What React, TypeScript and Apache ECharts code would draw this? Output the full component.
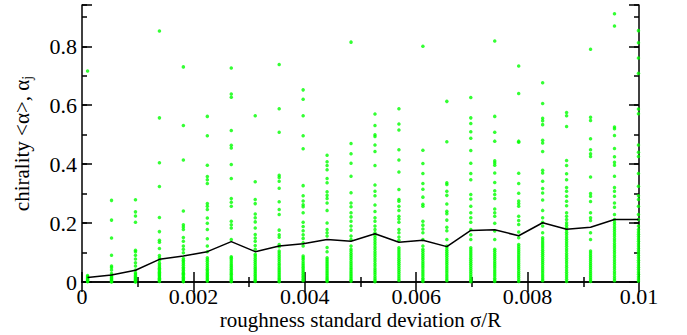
import React, { useEffect, useRef } from "react";
import * as echarts from "echarts";

// x position (sigma/R) of each column of points
const xValues = [
  0.0001, 0.00053, 0.00096, 0.00139, 0.00182, 0.00225, 0.00268, 0.00311,
  0.00354, 0.00397, 0.0044, 0.00483, 0.00526, 0.00569, 0.00612, 0.00655,
  0.00698, 0.00741, 0.00784, 0.00827, 0.0087, 0.00913, 0.00956, 0.00999,
];

// mean chirality <alpha> (black line)
const meanValues = [
  0.015, 0.024, 0.04, 0.077, 0.088, 0.103, 0.137, 0.103, 0.122, 0.13, 0.144,
  0.138, 0.164, 0.135, 0.142, 0.12, 0.175, 0.177, 0.157, 0.201, 0.179, 0.186,
  0.212, 0.212,
];

// tick labels
const xTickValues = [0, 0.002, 0.004, 0.006, 0.008, 0.01];
const xTickLabels = ["0", "0.002", "0.004", "0.006", "0.008", "0.01"];
const yTickValues = [0, 0.2, 0.4, 0.6, 0.8];
const yTickLabels = ["0", "0.2", "0.4", "0.6", "0.8"];

// individual chirality values alpha_j (green points), one list per column
const col0 = [0.716, 0.022, 0.019, 0.016, 0.013, 0.01, 0.008, 0.005, 0.003, 0.001];
const col1 = [0.277, 0.21, 0.149, 0.091, 0.054, 0.049, 0.041, 0.029, 0.023, 0.019, 0.016, 0.013, 0.01, 0.007, 0.004, 0.002, 0.0];
const col2 = [0.279, 0.238, 0.224, 0.203, 0.108, 0.103, 0.091, 0.078, 0.065, 0.054, 0.041, 0.031, 0.027, 0.022, 0.018, 0.014, 0.011, 0.008, 0.005, 0.002, 0.0];
const col3 = [0.852, 0.557, 0.405, 0.324, 0.219, 0.171, 0.142, 0.135, 0.114, 0.09, 0.082, 0.074, 0.064, 0.058, 0.052, 0.047, 0.042, 0.037, 0.033, 0.029, 0.025, 0.021, 0.017, 0.013, 0.009, 0.005, 0.002];
const col4 = [0.73, 0.531, 0.414, 0.241, 0.194, 0.187, 0.178, 0.151, 0.138, 0.122, 0.111, 0.099, 0.08, 0.074, 0.069, 0.063, 0.057, 0.05, 0.045, 0.04, 0.034, 0.03, 0.026, 0.021, 0.016, 0.012, 0.008, 0.004, 0.001];
const col5 = [0.562, 0.496, 0.396, 0.358, 0.347, 0.334, 0.266, 0.257, 0.246, 0.217, 0.199, 0.178, 0.147, 0.122, 0.103, 0.082, 0.076, 0.07, 0.063, 0.056, 0.049, 0.043, 0.038, 0.032, 0.027, 0.022, 0.017, 0.012, 0.007, 0.003];
const col6 = [0.726, 0.638, 0.627, 0.514, 0.464, 0.455, 0.399, 0.351, 0.283, 0.271, 0.257, 0.206, 0.194, 0.183, 0.144, 0.086, 0.081, 0.075, 0.068, 0.061, 0.055, 0.049, 0.043, 0.037, 0.031, 0.026, 0.02, 0.014, 0.009, 0.004, 0.001];
const col7 = [0.564, 0.34, 0.28, 0.266, 0.231, 0.218, 0.204, 0.183, 0.161, 0.149, 0.138, 0.124, 0.111, 0.094, 0.088, 0.081, 0.074, 0.067, 0.06, 0.053, 0.047, 0.041, 0.035, 0.029, 0.023, 0.017, 0.011, 0.006, 0.002];
const col8 = [0.738, 0.588, 0.508, 0.362, 0.355, 0.342, 0.318, 0.272, 0.246, 0.229, 0.176, 0.16, 0.152, 0.127, 0.12, 0.105, 0.098, 0.091, 0.084, 0.077, 0.07, 0.063, 0.057, 0.05, 0.044, 0.038, 0.032, 0.026, 0.02, 0.014, 0.009, 0.004, 0.001];
const col9 = [0.652, 0.62, 0.564, 0.496, 0.452, 0.327, 0.293, 0.275, 0.262, 0.255, 0.235, 0.203, 0.188, 0.174, 0.16, 0.148, 0.133, 0.122, 0.088, 0.082, 0.076, 0.069, 0.062, 0.056, 0.05, 0.044, 0.038, 0.032, 0.026, 0.02, 0.015, 0.009, 0.004];
const col10 = [0.43, 0.408, 0.395, 0.381, 0.351, 0.337, 0.306, 0.294, 0.283, 0.268, 0.243, 0.2, 0.178, 0.167, 0.156, 0.117, 0.103, 0.082, 0.076, 0.07, 0.064, 0.058, 0.052, 0.046, 0.04, 0.034, 0.028, 0.022, 0.016, 0.011, 0.006, 0.002];
const col11 = [0.814, 0.47, 0.435, 0.403, 0.359, 0.303, 0.268, 0.255, 0.235, 0.221, 0.206, 0.19, 0.176, 0.156, 0.144, 0.122, 0.111, 0.104, 0.097, 0.09, 0.083, 0.076, 0.069, 0.062, 0.055, 0.048, 0.042, 0.036, 0.03, 0.024, 0.018, 0.012, 0.007, 0.003];
const col12 = [0.57, 0.531, 0.5, 0.494, 0.465, 0.443, 0.395, 0.329, 0.308, 0.293, 0.261, 0.239, 0.218, 0.206, 0.19, 0.178, 0.167, 0.159, 0.151, 0.143, 0.135, 0.127, 0.119, 0.111, 0.103, 0.095, 0.087, 0.079, 0.071, 0.063, 0.055, 0.047, 0.04, 0.033, 0.026, 0.019, 0.012, 0.006, 0.001];
const col13 = [0.588, 0.536, 0.516, 0.449, 0.414, 0.373, 0.314, 0.28, 0.274, 0.257, 0.243, 0.223, 0.214, 0.203, 0.178, 0.167, 0.153, 0.142, 0.116, 0.109, 0.102, 0.095, 0.088, 0.081, 0.074, 0.067, 0.06, 0.053, 0.046, 0.039, 0.032, 0.025, 0.018, 0.011, 0.005];
const col14 = [0.8, 0.447, 0.402, 0.368, 0.334, 0.315, 0.288, 0.264, 0.257, 0.206, 0.193, 0.18, 0.167, 0.144, 0.122, 0.111, 0.104, 0.097, 0.09, 0.083, 0.076, 0.069, 0.062, 0.055, 0.048, 0.041, 0.034, 0.027, 0.02, 0.013, 0.007, 0.002];
const col15 = [0.613, 0.476, 0.337, 0.331, 0.308, 0.294, 0.265, 0.24, 0.232, 0.21, 0.186, 0.174, 0.144, 0.122, 0.115, 0.108, 0.101, 0.094, 0.087, 0.08, 0.073, 0.066, 0.059, 0.052, 0.045, 0.038, 0.031, 0.024, 0.017, 0.01, 0.004];
const col16 = [0.626, 0.557, 0.538, 0.51, 0.488, 0.446, 0.403, 0.368, 0.347, 0.297, 0.282, 0.257, 0.235, 0.218, 0.203, 0.178, 0.16, 0.144, 0.116, 0.109, 0.102, 0.095, 0.088, 0.081, 0.074, 0.067, 0.06, 0.053, 0.046, 0.039, 0.032, 0.025, 0.018, 0.011, 0.005, 0.001];
const col17 = [0.818, 0.562, 0.508, 0.478, 0.411, 0.404, 0.396, 0.37, 0.338, 0.31, 0.297, 0.283, 0.248, 0.235, 0.223, 0.199, 0.173, 0.144, 0.111, 0.104, 0.097, 0.09, 0.083, 0.076, 0.069, 0.062, 0.055, 0.048, 0.041, 0.034, 0.027, 0.02, 0.013, 0.007, 0.002];
const col18 = [0.733, 0.64, 0.478, 0.474, 0.369, 0.334, 0.301, 0.275, 0.266, 0.257, 0.223, 0.209, 0.195, 0.17, 0.15, 0.127, 0.12, 0.113, 0.106, 0.099, 0.092, 0.085, 0.078, 0.071, 0.064, 0.057, 0.05, 0.043, 0.036, 0.029, 0.022, 0.015, 0.008, 0.002];
const col19 = [0.676, 0.606, 0.556, 0.547, 0.534, 0.481, 0.472, 0.443, 0.379, 0.37, 0.342, 0.317, 0.302, 0.278, 0.243, 0.218, 0.203, 0.19, 0.167, 0.15, 0.143, 0.136, 0.129, 0.122, 0.115, 0.108, 0.101, 0.094, 0.087, 0.08, 0.073, 0.066, 0.059, 0.052, 0.045, 0.038, 0.031, 0.024, 0.017, 0.01, 0.004];
const col20 = [0.575, 0.564, 0.528, 0.412, 0.395, 0.367, 0.347, 0.321, 0.308, 0.291, 0.274, 0.259, 0.235, 0.223, 0.212, 0.201, 0.193, 0.185, 0.177, 0.169, 0.161, 0.153, 0.145, 0.137, 0.129, 0.121, 0.113, 0.105, 0.097, 0.089, 0.081, 0.073, 0.065, 0.057, 0.049, 0.041, 0.033, 0.025, 0.017, 0.009, 0.002];
const col21 = [0.79, 0.559, 0.548, 0.486, 0.449, 0.435, 0.426, 0.356, 0.3, 0.291, 0.273, 0.235, 0.218, 0.209, 0.167, 0.144, 0.105, 0.098, 0.091, 0.084, 0.077, 0.07, 0.063, 0.056, 0.049, 0.042, 0.035, 0.028, 0.021, 0.014, 0.008, 0.002];
const col22 = [0.91, 0.869, 0.526, 0.52, 0.497, 0.453, 0.425, 0.406, 0.396, 0.359, 0.321, 0.308, 0.291, 0.268, 0.254, 0.229, 0.212, 0.203, 0.195, 0.187, 0.179, 0.171, 0.163, 0.155, 0.147, 0.139, 0.131, 0.123, 0.115, 0.107, 0.099, 0.091, 0.083, 0.075, 0.067, 0.059, 0.051, 0.043, 0.035, 0.027, 0.019, 0.011, 0.004];
const col23 = [0.853, 0.812, 0.76, 0.708, 0.587, 0.571, 0.465, 0.44, 0.426, 0.368, 0.325, 0.293, 0.28, 0.257, 0.229, 0.212, 0.19, 0.178, 0.17, 0.162, 0.154, 0.146, 0.138, 0.13, 0.122, 0.114, 0.106, 0.098, 0.09, 0.082, 0.074, 0.066, 0.058, 0.05, 0.042, 0.034, 0.026, 0.018, 0.01, 0.003];

const columns = [
  col0, col1, col2, col3, col4, col5, col6, col7, col8, col9, col10, col11,
  col12, col13, col14, col15, col16, col17, col18, col19, col20, col21, col22, col23,
];

const X_TITLE = "roughness standard deviation σ/R";

const FONT = "Liberation Serif";

export default function App() {
  const ref = useRef<HTMLDivElement>(null);

  useEffect(() => {
    if (!ref.current) return;
    const chart = echarts.init(ref.current, undefined, { renderer: "svg" });

    const scatterData: number[][] = [];
    columns.forEach((col, i) => {
      col.forEach((v) => scatterData.push([xValues[i], v]));
    });
    const lineData = xValues.map((x, i) => [x, meanValues[i]]);

    const axisLineStyle = () => ({ color: "#000", width: 1.5 });
    const tickStyle = () => ({ color: "#000", width: 1.5 });

    const option: any = {
      animation: false,
      backgroundColor: "#fff",
      grid: { left: 82, right: 48, top: 5, bottom: 52 },
      xAxis: [
        {
          type: "value",
          position: "bottom",
          min: 0,
          max: 0.01,
          interval: 0.002,
          axisLine: { show: true, lineStyle: axisLineStyle() },
          axisTick: { show: true, inside: true, length: 10, lineStyle: tickStyle() },
          minorTick: { show: true, splitNumber: 2, length: 5, lineStyle: tickStyle() },
          splitLine: { show: false },
          axisLabel: { show: false },
          name: X_TITLE,
          nameLocation: "middle",
          nameGap: 27,
          nameTextStyle: { fontFamily: FONT, fontSize: 21, color: "#000" },
        },
        {
          type: "value",
          position: "top",
          min: 0,
          max: 0.01,
          interval: 0.002,
          axisLine: { show: true, lineStyle: axisLineStyle() },
          axisTick: { show: true, inside: true, length: 10, lineStyle: tickStyle() },
          minorTick: { show: true, splitNumber: 2, length: 5, lineStyle: tickStyle() },
          splitLine: { show: false },
          axisLabel: { show: false },
        },
      ],
      yAxis: [
        {
          type: "value",
          position: "left",
          min: 0,
          max: 0.94,
          interval: 0.1,
          splitLine: { show: false },
          axisLine: { show: true, lineStyle: axisLineStyle() },
          axisTick: { show: true, inside: true, length: 5, lineStyle: tickStyle() },
          axisLabel: { show: false },
          name: "{a|chirality <α>, α}{s|j}",
          nameLocation: "middle",
          nameGap: 48,
          nameTextStyle: {
            fontFamily: FONT,
            fontSize: 21,
            color: "#000",
            rich: {
              a: { fontFamily: FONT, fontSize: 21, color: "#000", lineHeight: 24 },
              s: {
                fontFamily: FONT,
                fontSize: 14,
                color: "#000",
                verticalAlign: "bottom",
                lineHeight: 14,
                padding: [10, 0, 0, 0],
              },
            },
          },
        },
        {
          type: "value",
          position: "left",
          min: 0,
          max: 0.94,
          interval: 0.2,
          splitLine: { show: false },
          axisLine: { show: false },
          axisTick: { show: true, inside: true, length: 10, lineStyle: tickStyle() },
          axisLabel: { show: false },
        },
        {
          type: "value",
          position: "right",
          min: 0,
          max: 0.94,
          interval: 0.1,
          splitLine: { show: false },
          axisLine: { show: true, lineStyle: axisLineStyle() },
          axisTick: { show: true, inside: true, length: 5, lineStyle: tickStyle() },
          axisLabel: { show: false },
        },
        {
          type: "value",
          position: "right",
          min: 0,
          max: 0.94,
          interval: 0.2,
          splitLine: { show: false },
          axisLine: { show: false },
          axisTick: { show: true, inside: true, length: 10, lineStyle: tickStyle() },
          axisLabel: { show: false },
        },
      ],
      series: [
        {
          type: "scatter",
          xAxisIndex: 0,
          yAxisIndex: 0,
          data: scatterData,
          symbol: "circle",
          symbolSize: 3.5,
          itemStyle: { color: "#00ff00" },
          clip: false,
          z: 2,
        },
        {
          type: "line",
          xAxisIndex: 0,
          yAxisIndex: 0,
          data: lineData,
          showSymbol: false,
          symbol: "none",
          lineStyle: { color: "#000", width: 1.5 },
          z: 3,
        },
      ],
    };

    chart.setOption(option);

    // tick labels placed through the axes' own scales
    const bottomY = chart.convertToPixel({ yAxisIndex: 0 }, 0) as number;
    const leftX = chart.convertToPixel({ xAxisIndex: 0 }, 0) as number;
    const graphics: any[] = [];
    xTickValues.forEach((v, i) => {
      const px = chart.convertToPixel({ xAxisIndex: 0 }, v) as number;
      graphics.push({
        type: "text",
        x: px,
        y: bottomY + 3,
        silent: true,
        style: {
          text: xTickLabels[i],
          fontFamily: FONT,
          fontSize: 22,
          fill: "#000",
          align: "center",
          verticalAlign: "top",
        },
      });
    });
    yTickValues.forEach((v, i) => {
      const py = chart.convertToPixel({ yAxisIndex: 0 }, v) as number;
      graphics.push({
        type: "text",
        x: leftX - 5,
        y: py,
        silent: true,
        style: {
          text: yTickLabels[i],
          fontFamily: FONT,
          fontSize: 22,
          fill: "#000",
          align: "right",
          verticalAlign: "middle",
        },
      });
    });
    chart.setOption({ graphic: graphics });

    return () => chart.dispose();
  }, []);

  return (
    <div
      ref={ref}
      style={{ position: "fixed", left: 0, top: 0, width: 687, height: 335, background: "#fff" }}
    />
  );
}
